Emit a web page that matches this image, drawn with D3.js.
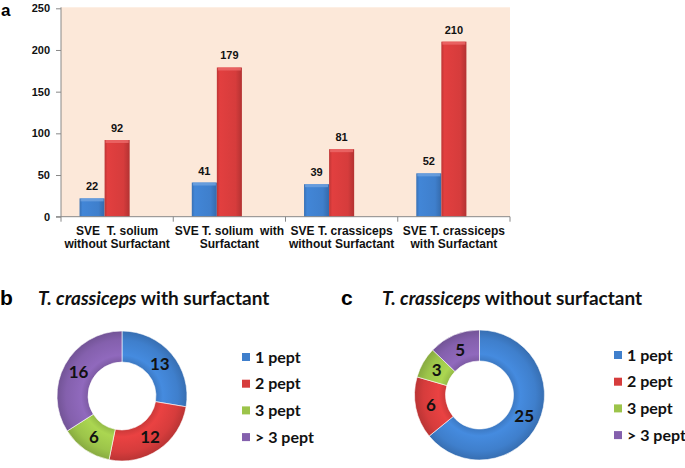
<!DOCTYPE html>
<html><head><meta charset="utf-8">
<script src="https://cdn.jsdelivr.net/npm/d3@7"></script>
<style>body{margin:0;background:#fff}svg{display:block}text{white-space:pre}</style>
</head><body>
<svg id="c" width="685" height="468"></svg>
<script>
// ---- data ----
const categories = [
  ["SVE  T. solium", "without Surfactant"],
  ["SVE T. solium  with", "Surfactant"],
  ["SVE T. crassiceps", "without Surfactant"],
  ["SVE T. crassiceps", "with Surfactant"]
];
const blueValues = [22, 41, 39, 52];
const redValues = [92, 179, 81, 210];
const yTicks = [0, 50, 100, 150, 200, 250];
const pieLabels = ["1 pept", "2 pept", "3 pept", "> 3 pept"];
const withSurfactant = [13, 12, 6, 16];
const withoutSurfactant = [25, 6, 3, 5];
const pieColors = ["#3f7fcc", "#d63c3c", "#9cc44a", "#8460ad"];

(function () {
const svg = d3.select("#c");
const defs = svg.append("defs");
function hgrad(id, c) {
  const g = defs.append("linearGradient").attr("id", id).attr("x1", 0).attr("x2", 1).attr("y1", 0).attr("y2", 0);
  const col = d3.color(c);
  g.append("stop").attr("offset", "0%").attr("stop-color", col.darker(0.35));
  g.append("stop").attr("offset", "12%").attr("stop-color", col.brighter(0.15));
  g.append("stop").attr("offset", "75%").attr("stop-color", col);
  g.append("stop").attr("offset", "100%").attr("stop-color", col.darker(0.5));
}
hgrad("gb", "#3f7fcc");
hgrad("gr", "#d63c3c");
pieColors.forEach((c, i) => {
  const g = defs.append("radialGradient").attr("id", "pg" + i).attr("gradientUnits", "userSpaceOnUse")
    .attr("cx", 0).attr("cy", 0).attr("r", 66);
  const col = d3.color(c);
  g.append("stop").attr("offset", "50%").attr("stop-color", col.darker(0.2));
  g.append("stop").attr("offset", "62%").attr("stop-color", col.brighter(0.25));
  g.append("stop").attr("offset", "85%").attr("stop-color", col);
  g.append("stop").attr("offset", "100%").attr("stop-color", col.darker(0.45));
});

// ---- panel a: bar chart ----
const pLeft = 61, pRight = 510, pTop = 8.3, pBottom = 216.7;
const y = d3.scaleLinear().domain([0, 250]).range([pBottom, pTop]);
const x0 = d3.scaleBand().domain(d3.range(categories.length)).range([pLeft, pRight]);
const x1 = d3.scaleBand().domain(["blue", "red", "empty"]).range([0, x0.bandwidth()]).paddingInner(0).paddingOuter(0.74);

svg.append("rect").attr("x", pLeft).attr("y", pTop - 1).attr("width", pRight - pLeft).attr("height", pBottom - pTop + 1).attr("fill", "#fce8d9");

const g = svg.append("g");
const series = [{key: "blue", vals: blueValues, fill: "url(#gb)", hl: "#6fa2e0"}, {key: "red", vals: redValues, fill: "url(#gr)", hl: "#ec6a6a"}];
series.forEach(s => {
  s.vals.forEach((v, i) => {
    const bx = x0(i) + x1(s.key), bw = x1.bandwidth();
    g.append("rect").attr("x", bx).attr("y", y(v)).attr("width", bw).attr("height", y(0) - y(v)).attr("fill", s.fill);
    g.append("rect").attr("x", bx + 1).attr("y", y(v)).attr("width", bw - 2).attr("height", 3).attr("fill", s.hl).attr("opacity", 0.8);
    g.append("text").attr("x", bx + bw / 2).attr("y", y(v) - 8).attr("text-anchor", "middle")
      .attr("font-family", "Liberation Sans, Arial, sans-serif").attr("font-weight", "bold").attr("font-size", 11).attr("fill", "#111").text(v);
  });
});

const yAxis = svg.append("g").attr("transform", `translate(${pLeft},0)`)
  .call(d3.axisLeft(y).tickValues(yTicks).tickSize(5).tickPadding(6));
yAxis.select(".domain").attr("stroke", "#888").attr("d", `M-5,${pBottom}H0V${pTop - 1}`);
yAxis.selectAll(".tick line").attr("stroke", "#888");
yAxis.selectAll("text").attr("font-family", "Liberation Sans, Arial, sans-serif").attr("font-weight", "bold").attr("font-size", 11).attr("fill", "#111");

const xAxis = svg.append("g").attr("transform", `translate(0,${pBottom})`);
xAxis.append("line").attr("x1", pLeft).attr("x2", pRight).attr("stroke", "#888");
d3.range(categories.length + 1).forEach(i => {
  const xx = i < categories.length ? x0(i) : pRight;
  xAxis.append("line").attr("x1", xx).attr("x2", xx).attr("y1", 0).attr("y2", 5).attr("stroke", "#888");
});
categories.forEach((c, i) => {
  const cx = x0(i) + x0.bandwidth() / 2;
  const t = xAxis.append("text").attr("x", cx).attr("text-anchor", "middle")
    .attr("font-family", "Liberation Sans, Arial, sans-serif").attr("font-weight", "bold").attr("font-size", 12).attr("fill", "#111");
  t.append("tspan").attr("x", cx).attr("y", 18).text(c[0]);
  t.append("tspan").attr("x", cx).attr("y", 31.5).text(c[1]);
});

svg.append("text").attr("x", 1).attr("y", 16).attr("font-family", "Liberation Sans, Arial, sans-serif").attr("font-weight", "bold").attr("font-size", 17).text("a");

// ---- panels b and c: donuts ----
function donut(values, cx, cy, letter, lx, tx, titleRest, legX, legY0) {
  svg.append("text").attr("x", lx).attr("y", 305).attr("font-family", "Liberation Sans, Arial, sans-serif").attr("font-weight", "bold").attr("font-size", 21).text(letter);
  const t = svg.append("text").attr("x", tx).attr("y", 305).attr("font-family", "Lato, Open Sans, sans-serif").attr("font-weight", "bold").attr("font-size", 19).attr("fill", "#111");
  t.append("tspan").attr("font-style", "italic").text("T. crassiceps");
  t.append("tspan").text(titleRest);

  const pie = d3.pie().sort(null).value(d => d)(values);
  const arc = d3.arc().innerRadius(34).outerRadius(65);
  const lab = d3.arc().innerRadius(49.5).outerRadius(49.5);
  const gg = svg.append("g").attr("transform", `translate(${cx},${cy})`);
  gg.selectAll("path").data(pie).enter().append("path").attr("d", arc)
    .attr("fill", (d, i) => `url(#pg${i})`).attr("stroke", "#fff").attr("stroke-width", 0.6);
  gg.selectAll("text").data(pie).enter().append("text")
    .attr("transform", d => `translate(${lab.centroid(d)})`).attr("dy", "0.36em").attr("text-anchor", "middle")
    .attr("font-family", "Lato, Open Sans, sans-serif").attr("font-weight", "bold").attr("font-size", 17).attr("fill", "#111")
    .text(d => d.data);

  pieLabels.forEach((l, i) => {
    const yy = legY0 + i * 26.7;
    svg.append("rect").attr("x", legX).attr("y", yy - 4).attr("width", 8).attr("height", 8).attr("fill", pieColors[i]);
    svg.append("text").attr("x", legX + 13).attr("y", yy).attr("dy", "0.36em")
      .attr("font-family", "Lato, Open Sans, sans-serif").attr("font-weight", "bold").attr("font-size", 16).attr("fill", "#111").text(l);
  });
}
donut(withSurfactant, 122, 396, "b", 0, 38, " with surfactant", 242, 357);
donut(withoutSurfactant, 479.5, 395, "c", 341, 382, " without surfactant", 614, 355);
})();
</script>
</body></html>
